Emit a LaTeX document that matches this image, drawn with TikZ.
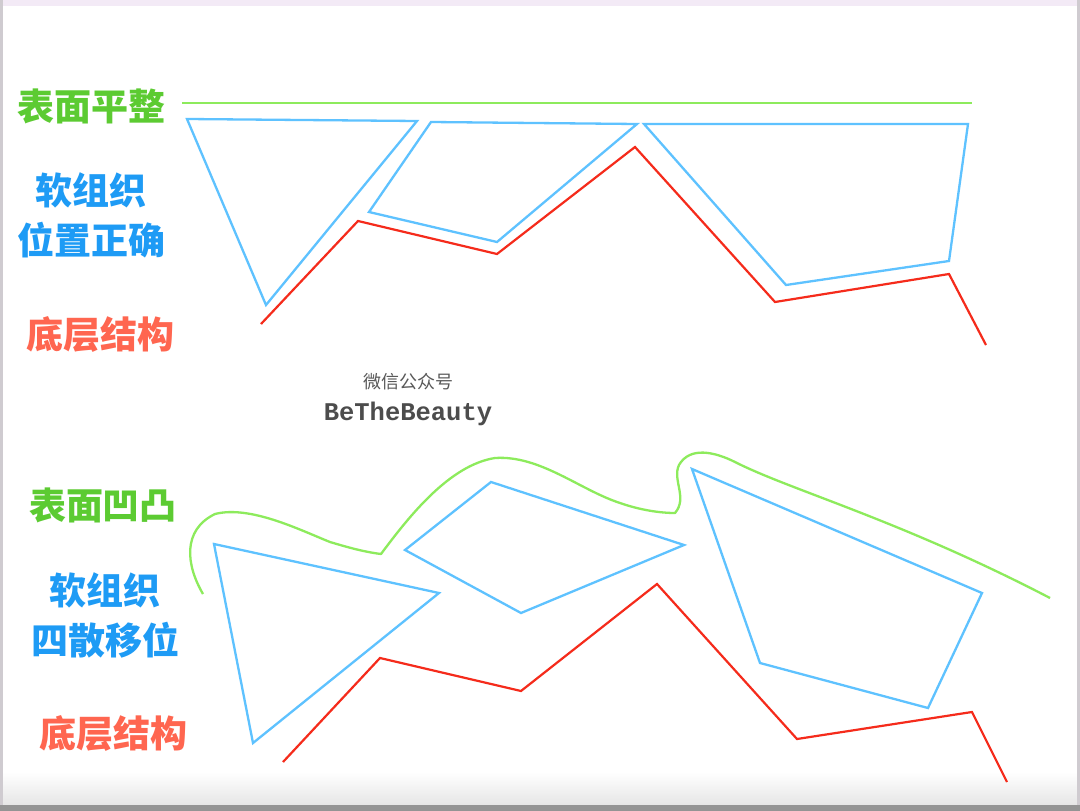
\documentclass[tikz,border=0pt]{standalone}
\usepackage{fontspec}
\newfontfamily\cjk{Noto Sans CJK SC}
\newfontfamily\slabfont{Liberation Mono}
\definecolor{surfline}{HTML}{8DEB5C}
\definecolor{surftext}{HTML}{5CCB32}
\definecolor{softline}{HTML}{5EC2FF}
\definecolor{softtext}{HTML}{1E9BF5}
\definecolor{baseln}{HTML}{F52B1B}
\definecolor{basetext}{HTML}{FF6650}
\definecolor{framepink}{HTML}{F3EAF6}
\definecolor{framegray}{HTML}{CFCBD0}
\tikzset{
  surf/.style={draw=surfline,line width=2.3pt,line join=round},
  soft/.style={draw=softline,line width=2.3pt},
  base/.style={draw=baseln,line width=2.2pt},
  lbl/.style={font=\cjk\bfseries\fontsize{37}{40}\selectfont,inner sep=0pt,align=center}
}
\begin{document}
\begin{tikzpicture}[x=1pt,y=-1pt]
\useasboundingbox (0,0) rectangle (1080,811);
% window frame
\fill[white] (0,0) rectangle (1080,811);
\fill[framepink] (0,0) rectangle (1080,6);
\shade[top color=white,bottom color=black!10] (3,772) rectangle (1077,805);
\fill[framegray] (0,0) rectangle (3,811);
\fill[framegray] (1077,0) rectangle (1080,811);
\fill[black!42] (0,805) rectangle (1080,811);

% labels
\node[lbl,text=surftext] (flat) at (91,106) {表面平整};
\node[lbl,text=softtext] (softok) at (91,215) {软组织\\[10pt]位置正确};
\node[lbl,text=basetext] (baseup) at (101,334) {底层结构};
\node[lbl,text=surftext] (bumpy) at (103,505) {表面凹凸};
\node[lbl,text=softtext] (softbad) at (105,615) {软组织\\[10pt]四散移位};
\node[lbl,text=basetext] (baselow) at (113,733) {底层结构};

% watermark
\node[font=\cjk\fontsize{18}{20}\selectfont,text=black!65,inner sep=0pt] (wxname) at (408,382) {微信公众号};
\node[font=\slabfont\bfseries\fontsize{25.5}{28}\selectfont,text=black!70,inner sep=0pt] (wxid) at (408,414) {BeTheBeauty};

% top: flat surface
\draw[surf] (182,103) -- (972,103);
\draw[soft] (187,119) -- (417,121) -- (266,305) -- cycle;
\draw[soft] (431,122) -- (637,124) -- (497,242) -- (369,212) -- cycle;
\draw[soft] (644,124) -- (968,124) -- (949,261) -- (786,285) -- cycle;
\draw[base] (261,324) -- (358,221) -- (497,254) -- (635,147) -- (775,302) -- (949,274) -- (986,345);

% bottom: uneven surface
\draw[surf] (203,594) .. controls (186,565) and (182,530) .. (215,514)
  .. controls (250,505) and (300,530) .. (330,542)
  .. controls (350,548) and (365,552) .. (381,554)
  .. controls (410,515) and (450,465) .. (495,458)
  .. controls (540,455) and (580,490) .. (620,503)
  .. controls (640,510) and (660,513) .. (675,513)
  .. controls (688,498) and (672,480) .. (679,465)
  .. controls (690,446) and (715,452) .. (735,462)
  .. controls (790,490) and (900,520) .. (1050,598);
\draw[soft] (214,544) -- (439,593) -- (253,743) -- cycle;
\draw[soft] (405,550) -- (491,482) -- (684,545) -- (521,613) -- cycle;
\draw[soft] (692,469) -- (982,593) -- (928,708) -- (760,663) -- cycle;
\draw[base] (283,762) -- (380,658) -- (521,691) -- (657,584) -- (797,739) -- (972,712) -- (1007,782);
\end{tikzpicture}
\end{document}
